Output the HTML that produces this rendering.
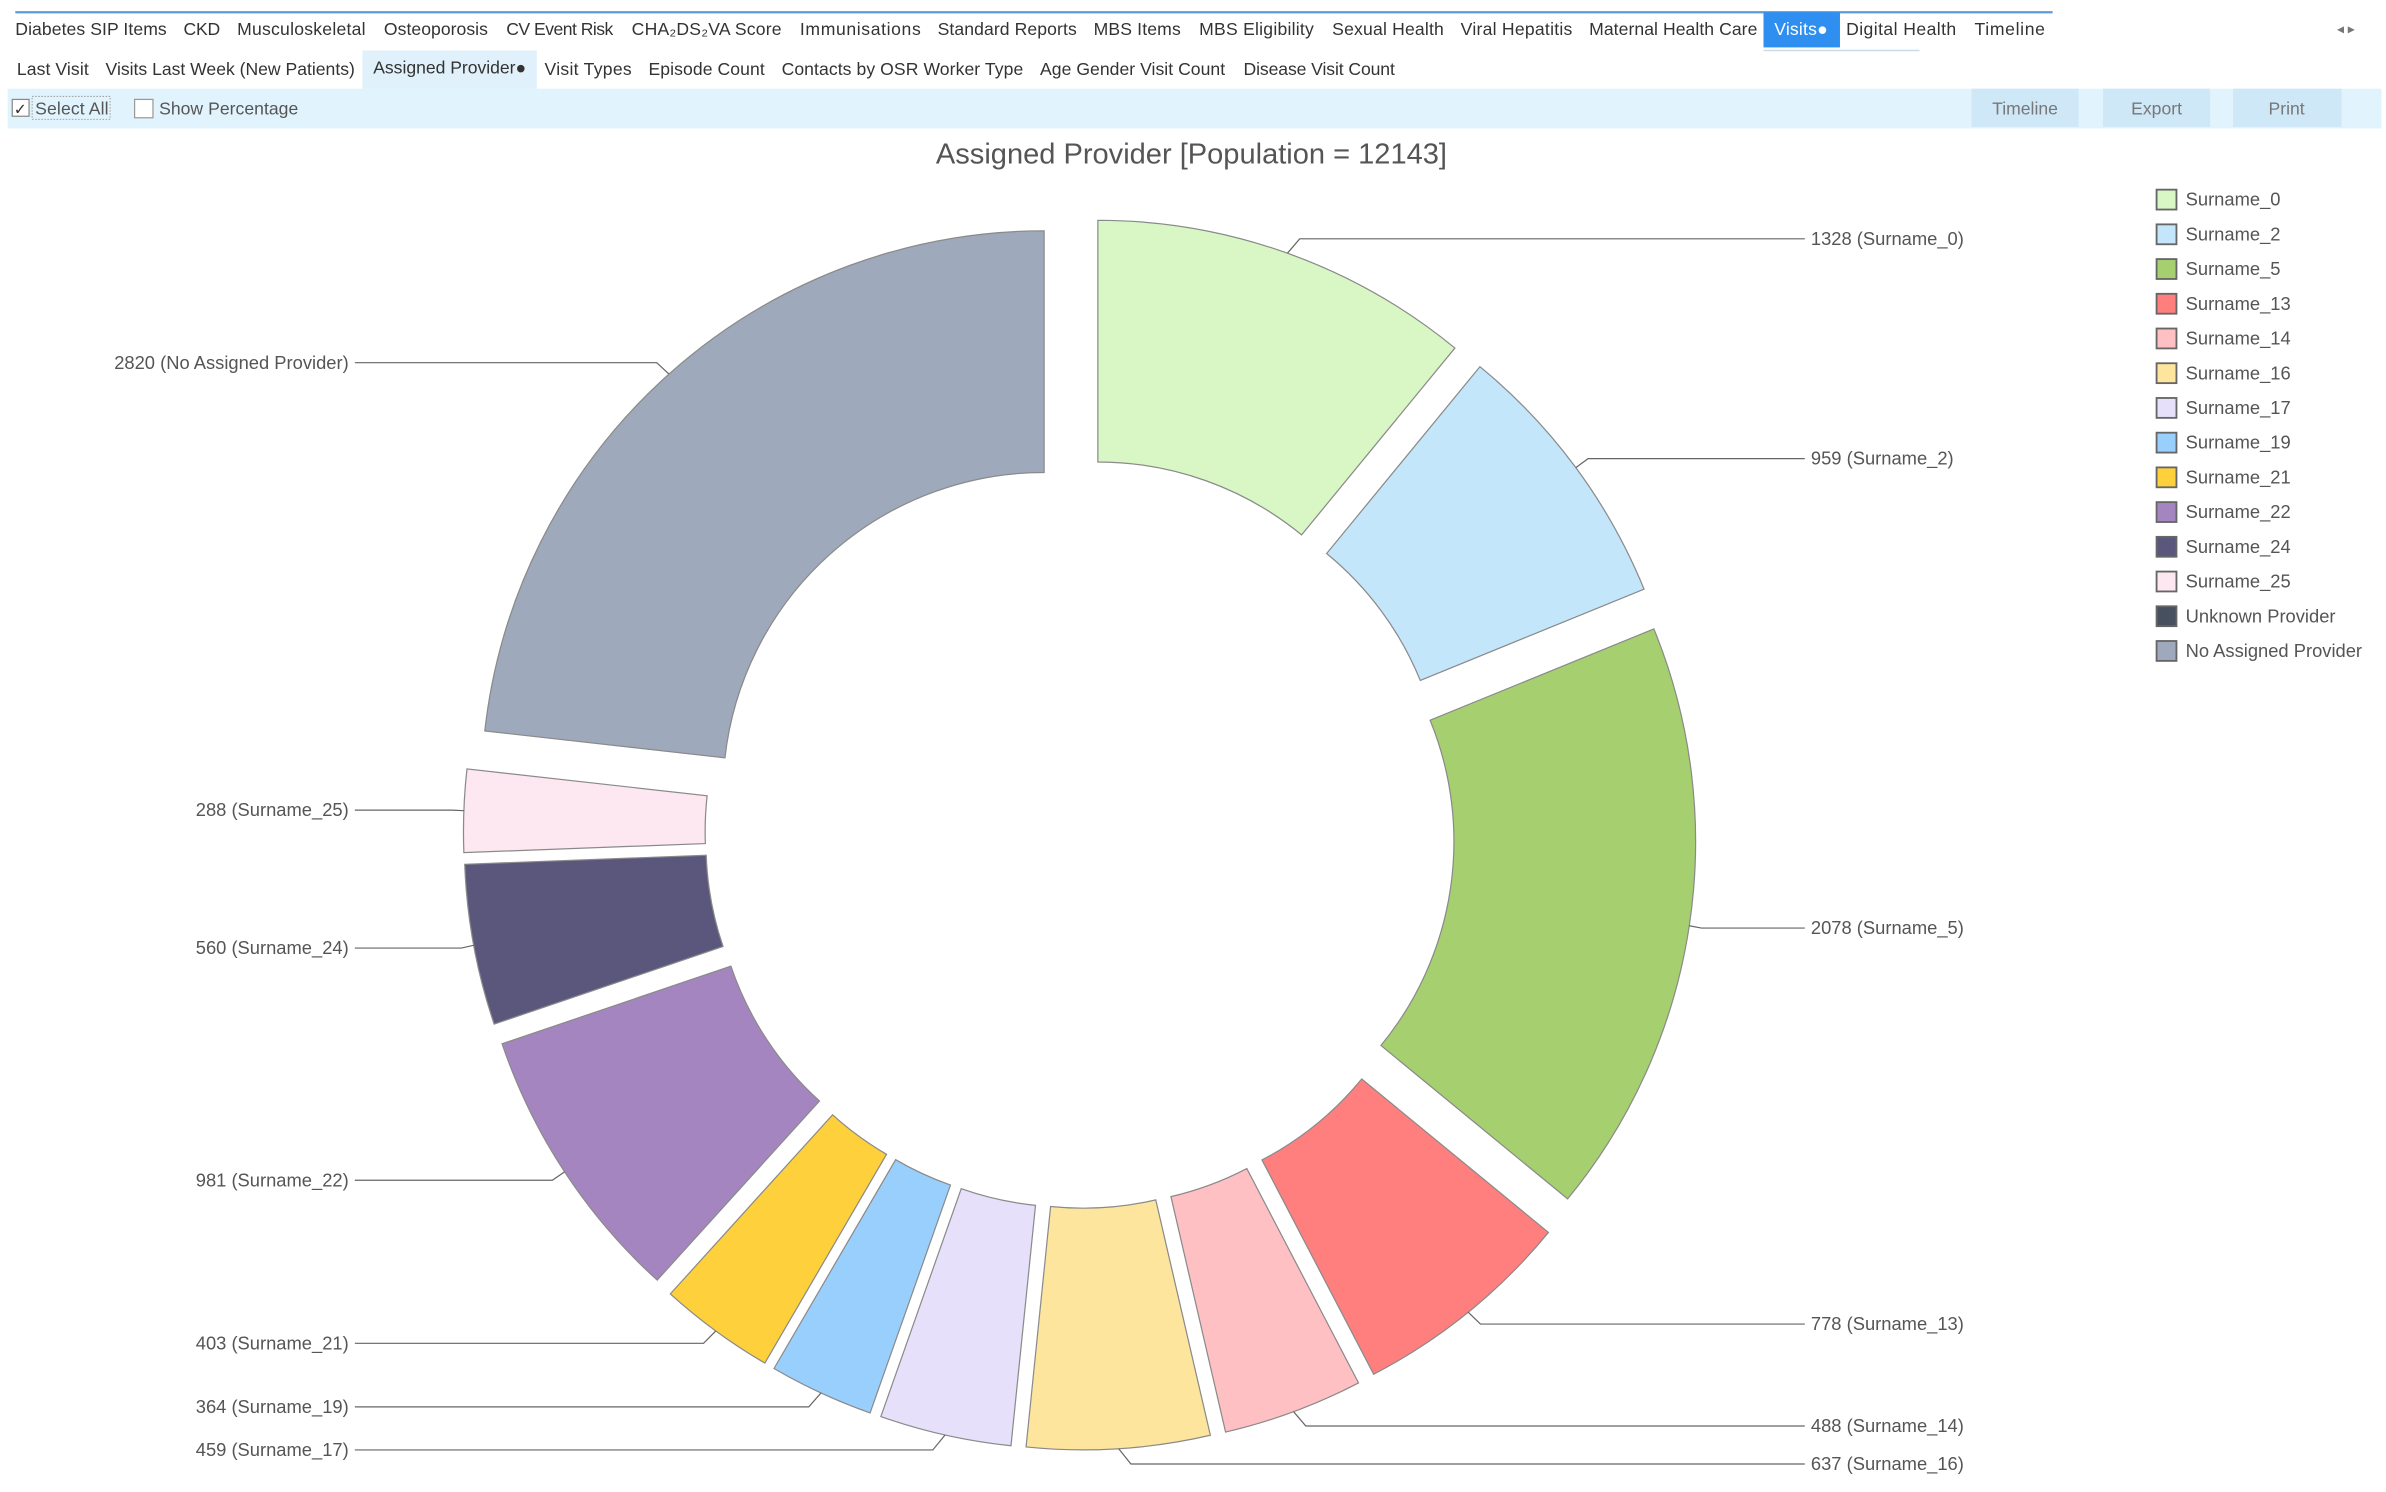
<!DOCTYPE html>
<html><head><meta charset="utf-8"><style>
html,body{margin:0;padding:0;background:#fff;width:2386px;height:1492px;overflow:hidden}
svg{display:block;font-family:"Liberation Sans",sans-serif}
</style></head><body>
<svg id="root" width="2386" height="1492" viewBox="0 0 1560 975.5" preserveAspectRatio="none" xmlns="http://www.w3.org/2000/svg">
<g font-size="11.5" fill="#333">
<line x1="10" y1="8" x2="1342" y2="8" stroke="#5b9bd5" stroke-width="1.5"/>
<rect x="1153" y="8" width="50" height="23" fill="#2e8ff0"/>
<text x="10" y="23" textLength="99">Diabetes SIP Items</text>
<text x="120" y="23" textLength="24">CKD</text>
<text x="155" y="23" textLength="84">Musculoskeletal</text>
<text x="251" y="23" textLength="68">Osteoporosis</text>
<text x="331" y="23" textLength="70">CV Event Risk</text>
<text x="413" y="23" textLength="98">CHA₂DS₂VA Score</text>
<text x="523" y="23" textLength="79">Immunisations</text>
<text x="613" y="23" textLength="91">Standard Reports</text>
<text x="715" y="23" textLength="57">MBS Items</text>
<text x="784" y="23" textLength="75">MBS Eligibility</text>
<text x="871" y="23" textLength="73">Sexual Health</text>
<text x="955" y="23" textLength="73">Viral Hepatitis</text>
<text x="1039" y="23" textLength="110">Maternal Health Care</text>
<text x="1160" y="23" fill="#fff" textLength="35">Visits●</text>
<text x="1207" y="23" textLength="72">Digital Health</text>
<text x="1291" y="23" textLength="46">Timeline</text>
<text x="1528" y="22" font-size="9" fill="#777">◂  ▸</text>
</g>
<g font-size="11.5" fill="#333">
<rect x="237" y="33" width="114" height="25" fill="#e1f1fb"/>
<line x1="1153" y1="33" x2="1255" y2="33" stroke="#c8dceb"/>
<text x="11" y="49" textLength="47">Last Visit</text>
<text x="69" y="49" textLength="163">Visits Last Week (New Patients)</text>
<text x="244" y="48" textLength="100">Assigned Provider●</text>
<text x="356" y="49" textLength="57">Visit Types</text>
<text x="424" y="49" textLength="76">Episode Count</text>
<text x="511" y="49" textLength="158">Contacts by OSR Worker Type</text>
<text x="680" y="49" textLength="121">Age Gender Visit Count</text>
<text x="813" y="49" textLength="99">Disease Visit Count</text>
</g>
<g font-size="11.5" fill="#555">
<rect x="5" y="58" width="1552" height="26" fill="#e1f3fc"/>
<rect x="8" y="65" width="11" height="11" fill="#fff" stroke="#888" stroke-width="0.8"/>
<text x="9" y="75" font-size="10" fill="#333">✓</text>
<rect x="21" y="63" width="51" height="15" fill="none" stroke="#999" stroke-width="0.6" stroke-dasharray="1,1"/>
<text x="23" y="75" textLength="48">Select All</text>
<rect x="88" y="65" width="12" height="12" fill="#fff" stroke="#999" stroke-width="0.8"/>
<text x="104" y="75" textLength="91">Show Percentage</text>
<rect x="1289" y="58" width="70" height="25" fill="#cfe8f7"/>
<text x="1324" y="75" text-anchor="middle" fill="#777">Timeline</text>
<rect x="1375" y="58" width="70" height="25" fill="#cfe8f7"/>
<text x="1410" y="75" text-anchor="middle" fill="#777">Export</text>
<rect x="1460" y="58" width="71" height="25" fill="#cfe8f7"/>
<text x="1495" y="75" text-anchor="middle" fill="#777">Print</text>
</g>
<text x="779" y="107" text-anchor="middle" font-size="19" fill="#555">Assigned Provider [Population = 12143]</text>
<g id="donut"></g>
<g id="legend"></g>
</svg>
<script>
const categories = ["Surname_0","Surname_2","Surname_5","Surname_13","Surname_14","Surname_16","Surname_17","Surname_19","Surname_21","Surname_22","Surname_24","Surname_25","Unknown Provider","No Assigned Provider"];
const values = [1328,959,2078,778,488,637,459,364,403,981,560,288,0,2820];
const colors = ["#d9f7c4","#c3e6fb","#a6d06f","#ff7f7f","#ffc0c4","#fde59d","#e6e0fa","#99cffc","#fdd03c","#a585c0","#5b577c","#fde7f1","#46505f","#9ea9bb"];
const NS="http://www.w3.org/2000/svg";
const cx=706, cy=545, R=368, RIN=210, OFF=35;
const donut=document.getElementById('donut'), legend=document.getElementById('legend');
function mk(tag,attrs,parent){const e=document.createElementNS(NS,tag);for(const k in attrs)e.setAttribute(k,attrs[k]);parent.appendChild(e);return e;}
const total=values.reduce((a,b)=>a+b,0);
function angleScale(v){return v/total*2*Math.PI;}
function pt(a,r,ox,oy){return [ox+r*Math.sin(a), oy-r*Math.cos(a)];}
let acc=0; const labels=[];
values.forEach((v,i)=>{
  const a0=angleScale(acc), a1=angleScale(acc+v); acc+=v;
  if(v<=0) return;
  const am=(a0+a1)/2;
  const ox=cx+OFF*Math.sin(am), oy=cy-OFF*Math.cos(am);
  const p0=pt(a0,R,ox,oy),p1=pt(a1,R,ox,oy),q1=pt(a1,RIN,ox,oy),q0=pt(a0,RIN,ox,oy);
  const large=(a1-a0)>Math.PI?1:0;
  const d=`M${p0[0]},${p0[1]} A${R},${R} 0 ${large} 1 ${p1[0]},${p1[1]} L${q1[0]},${q1[1]} A${RIN},${RIN} 0 ${large} 0 ${q0[0]},${q0[1]} Z`;
  const s=mk('path',{d:d,fill:colors[i],stroke:'#8a8a8a','stroke-width':0.8},donut);
  
  
  const op=pt(am,R,ox,oy);
  const right=Math.sin(am)>=0;
  labels.push({i,v,op,right,y:cy-(R+OFF+10)*Math.cos(am)});
});
// collision resolution
[true,false].forEach(side=>{
  const L=labels.filter(l=>l.right===side).sort((a,b)=>a.y-b.y);
  for(let k=1;k<L.length;k++){ if(L[k].y-L[k-1].y<24) L[k].y=L[k-1].y+24; }
  for(let k=L.length-1;k>=0;k--){ if(L[k].y>960){L[k].y=960;} if(k<L.length-1 && L[k+1].y-L[k].y<24) L[k].y=L[k+1].y-24; }
});
labels.forEach(l=>{
  const endX=l.right?1180:232;
  const ex=l.op[0]+(l.right?8:-8);
  const ln=mk('polyline',{points:`${l.op[0]},${l.op[1]} ${ex},${l.y} ${endX},${l.y}`,fill:'none',stroke:'#666','stroke-width':0.8},donut);
  
  
  const t=mk('text',{x:l.right?endX+4:endX-4,y:l.y+4,'font-size':12,fill:'#555','text-anchor':l.right?'start':'end'},donut);
  
  
  t.textContent=l.v+' ('+(categories[l.i]==='No Assigned Provider'?'No Assigned Provider':categories[l.i])+')';
});
categories.forEach((c,i)=>{
  const y=130+i*22.7;
  const r=mk('rect',{x:1410,y:y-6,width:13,height:13,fill:colors[i],stroke:'#666','stroke-width':1.2},legend);
  
  
  const t=mk('text',{x:1429,y:y+4.5,'font-size':12,fill:'#555'},legend);
  
  
  t.textContent=c;
});
</script>
</body></html>
